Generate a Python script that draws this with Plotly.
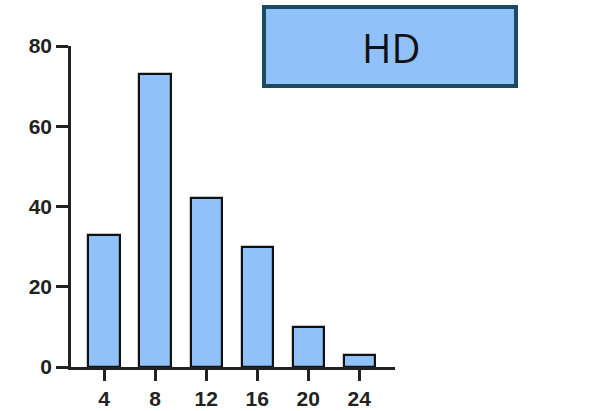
import plotly.graph_objects as go

# Histogram of counts per bin
bins = [4, 8, 12, 16, 20, 24]
counts = [33, 73, 42, 30, 10, 3]
y_ticks = [0, 20, 40, 60, 80]
panel_label = "HD"

bar_fill = "#91C1F9"
box_border = "#1B4A63"

fig = go.Figure()
fig.add_trace(go.Bar(
    x=bins, y=counts, width=2.45,
    marker=dict(color=bar_fill, line=dict(color="#111111", width=2.2)),
    showlegend=False,
))

tick_font = dict(family="Liberation Sans, Arial, sans-serif", size=21, color="#222222", weight="bold")

fig.update_layout(
    width=615, height=411,
    margin=dict(l=71, r=220, t=46, b=44),
    paper_bgcolor="white", plot_bgcolor="white",
    bargap=0,
    xaxis=dict(
        range=[1.41, 26.8], tickvals=bins, ticktext=[str(b) for b in bins],
        showline=True, linecolor="#222222", linewidth=2.5,
        ticks="outside", ticklen=11, tickwidth=2.5, tickcolor="#222222",
        showgrid=False, zeroline=False, tickfont=tick_font, automargin=False,
    ),
    yaxis=dict(
        range=[0, 80], tickvals=y_ticks,
        showline=True, linecolor="#222222", linewidth=2.5,
        ticks="outside", ticklen=12, tickwidth=2.5, tickcolor="#222222",
        showgrid=False, zeroline=False, tickfont=tick_font, automargin=False,
    ),
)

# Labelled box in the upper right
fig.add_shape(
    type="rect", xref="paper", yref="paper",
    x0=(264 - 71) / 324, x1=(516 - 71) / 324,
    y0=(367 - 86) / 321, y1=(367 - 7) / 321,
    fillcolor=bar_fill, line=dict(color=box_border, width=4),
    layer="above",
)
fig.add_annotation(
    xref="paper", yref="paper",
    x=(391 - 71) / 324, y=(367 - 47) / 321,
    text=panel_label, showarrow=False,
    font=dict(family="Open Sans, Noto Sans, sans-serif", size=40, color="#111111"),
    xanchor="center", yanchor="middle",
)

# Label of the next panel, cut off at the page edge
fig.add_annotation(
    xref="paper", yref="paper",
    x=(43 - 71) / 324, y=(367 - 421) / 321,
    text="80", showarrow=False, font=tick_font,
    xanchor="center", yanchor="middle",
)

fig.write_html("out.html")
